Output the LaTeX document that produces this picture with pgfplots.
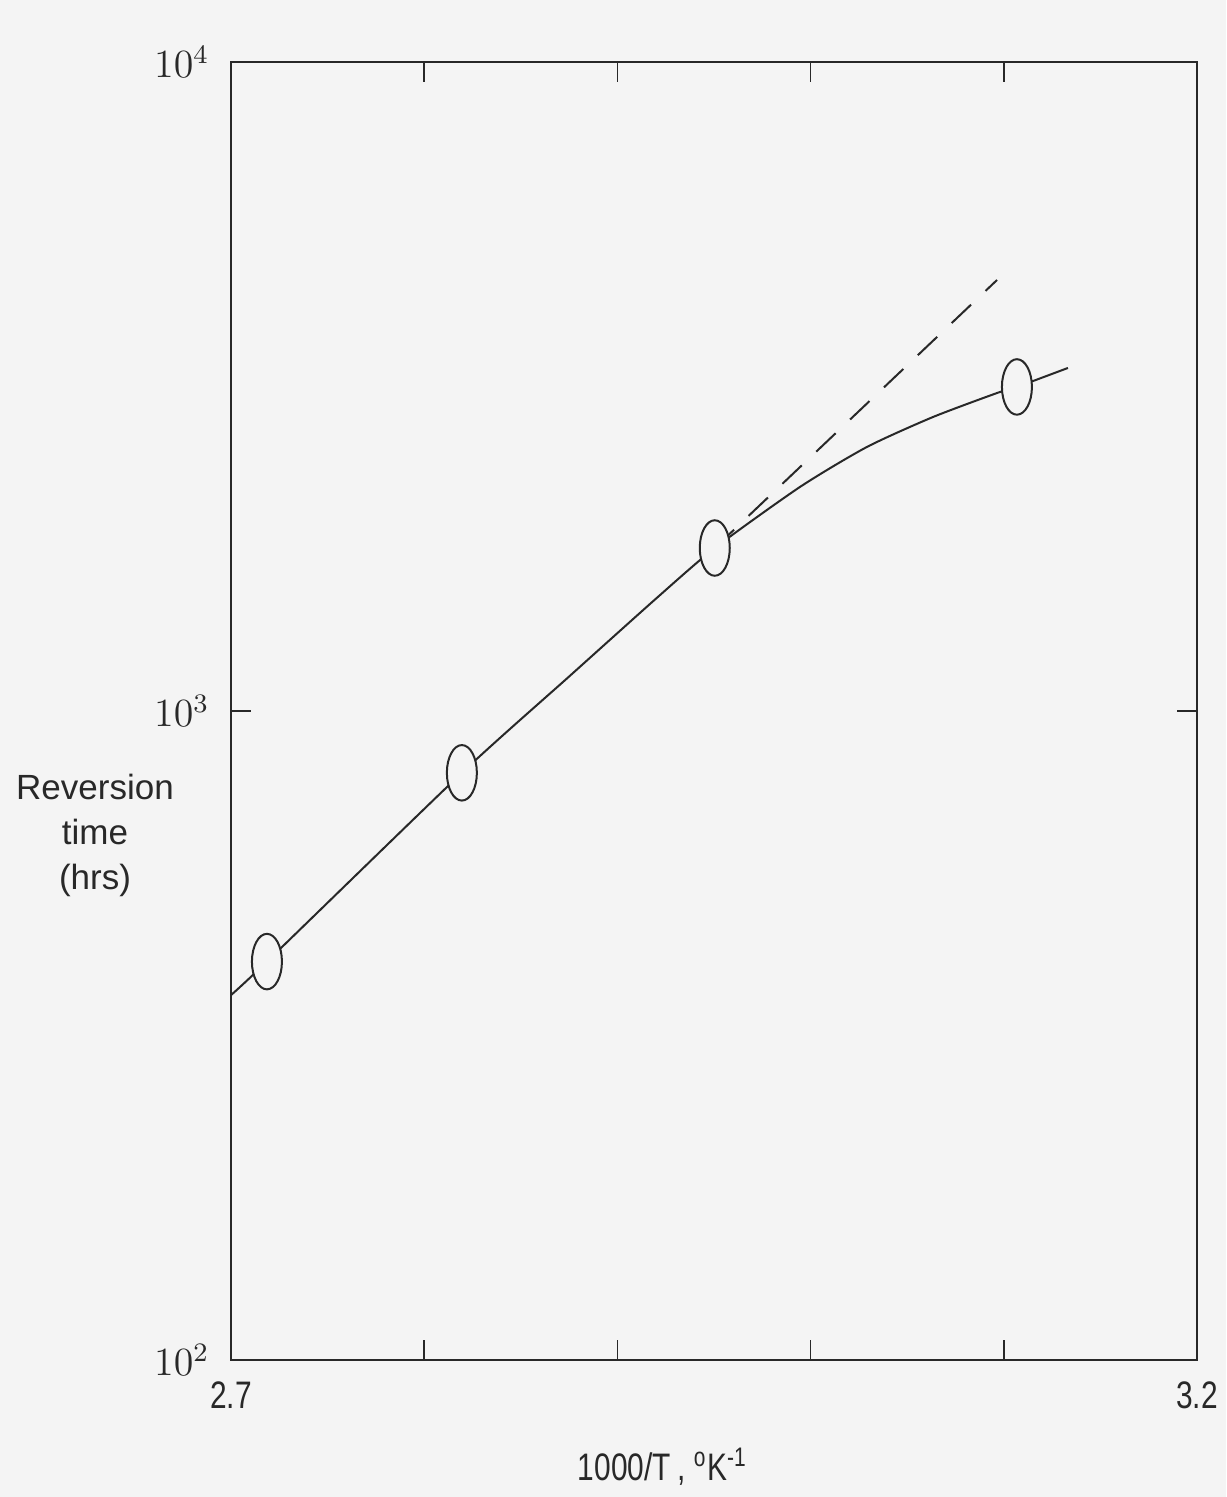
\documentclass[border=0pt]{standalone}
\usepackage{pgfplots}
\pgfplotsset{compat=1.18}
\usepackage{fontspec}
\setmainfont{Liberation Sans}
\newfontfamily\narrow[FakeStretch=0.78]{Liberation Sans}
\definecolor{bg}{RGB}{244,244,244}
\definecolor{ink}{RGB}{40,40,40}
\begin{document}
\begin{tikzpicture}
\path[use as bounding box, fill=bg] (-69.3pt,-41.1pt) rectangle (298.5pt,408pt);
\begin{axis}[
  at={(0pt,0pt)}, anchor=south west,
  scale only axis, width=289.8pt, height=389.4pt,
  xmin=2.7, xmax=3.2, ymode=log, ymin=100, ymax=10000,
  xtick={2.7,2.8,2.9,3.0,3.1,3.2},
  xticklabels={2.7,,,,,3.2},
  ytick={100,1000,10000},
  yticklabels={$10^2$,$10^3$,$10^4$},
  yminorticks=false,
  tick align=inside, major tick length=6pt,
  axis line style={ink, line width=0.5pt},
  tick style={ink, line width=0.5pt},
  every tick label/.append style={ink},
  xticklabel style={font=\narrow\fontsize{11.5}{12}\selectfont, yshift=-3pt},
  yticklabel style={font=\fontsize{12}{12}\selectfont, xshift=-3pt},
  clip=false,
]
\addplot[ink, line width=0.6pt, dash pattern=on 8pt off 6pt] coordinates {(2.9504,1783) (3.0965,4614)};
\addplot[ink, line width=0.6pt, smooth, tension=0.4] table {
x y
2.700 365
2.7186 411
2.8195 803
2.875 1130
2.920 1490
2.9504 1783
2.9945 2214
3.0292 2552
3.0634 2838
3.0965 3090
3.1068 3157
3.1332 3377
};
\addplot[only marks, mark=*, mark size=4.5pt, mark options={yscale=1.85, fill=bg, draw=ink, line width=0.6pt}] coordinates {
(2.7186,411) (2.8195,803) (2.9504,1783) (3.1068,3157)
};
\end{axis}
\node[ink, align=center, font=\fontsize{10.5}{13.5}\selectfont] at (-40.8pt,157.5pt) {Reversion\\time\\(hrs)};
\node[ink, font=\narrow\fontsize{11.5}{12}\selectfont] at (129.5pt,-32pt) {1000/T\,,\ \textsuperscript{o}K\textsuperscript{-1}};
\end{tikzpicture}
\end{document}
